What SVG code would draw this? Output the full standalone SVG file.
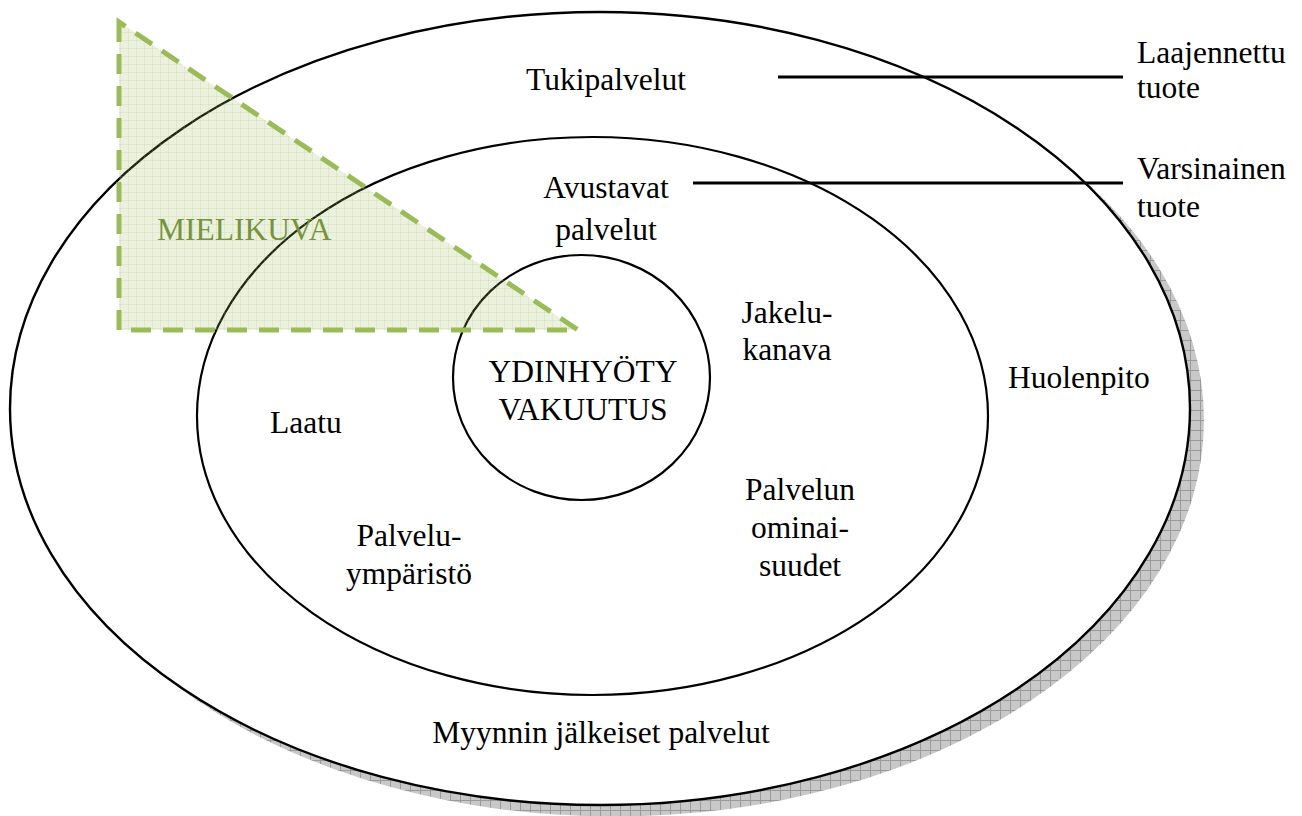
<svg xmlns="http://www.w3.org/2000/svg" width="1302" height="816" viewBox="0 0 1302 816">
<style>
.t{font-family:"Liberation Serif","DejaVu Serif",serif;font-size:31.5px;fill:#000}
.m{text-anchor:middle}
.ring{fill:none;stroke:#000;stroke-width:2.2}
.lbl{stroke:#000;stroke-width:3}
.g{fill:#77933c}
</style>
<defs>
<pattern id="hatch" width="10" height="10" patternUnits="userSpaceOnUse">
<rect width="10" height="10" fill="#c8c8c8"/>
<path d="M0 0.5H10M0.5 0V10" stroke="#9a9a9a" stroke-width="1"/>
</pattern>
<pattern id="grid" width="8" height="8" patternUnits="userSpaceOnUse">
<rect width="8" height="8" fill="#9bbb59" fill-opacity="0.2"/>
<path d="M0 0.5H8M0.5 0V8" stroke="#9bbb59" stroke-opacity="0.15" stroke-width="1"/>
</pattern>
</defs>
<rect width="1302" height="816" fill="#fff"/>
<g id="outer">
<ellipse cx="614" cy="420" rx="590" ry="396.5" fill="url(#hatch)"/>
<ellipse cx="600" cy="408.5" rx="590" ry="396.5" fill="#fff" stroke="#000" stroke-width="2.4"/>
<text class="t m" x="606" y="90">Tukipalvelut</text>
<text class="t" x="1008" y="388">Huolenpito</text>
<text class="t m" x="601" y="743">Myynnin jälkeiset palvelut</text>
</g>
<g id="middle">
<ellipse class="ring" cx="592.5" cy="416" rx="395.5" ry="279"/>
<text class="t m" x="606" y="198">Avustavat</text>
<text class="t m" x="606" y="240">palvelut</text>
<text class="t m" x="787" y="323">Jakelu-</text>
<text class="t m" x="787" y="360">kanava</text>
<text class="t" x="270" y="433">Laatu</text>
<text class="t m" x="800" y="500">Palvelun</text>
<text class="t m" x="800" y="538">ominai-</text>
<text class="t m" x="800" y="576">suudet</text>
<text class="t m" x="409" y="546">Palvelu-</text>
<text class="t m" x="409" y="584">ympäristö</text>
</g>
<g id="core">
<ellipse class="ring" cx="581.5" cy="377.5" rx="128.5" ry="122.5"/>
<text class="t m" x="583" y="382">YDINHYÖTY</text>
<text class="t m" x="583" y="420">VAKUUTUS</text>
</g>
<g id="mielikuva">
<polygon points="119,22 119,330 578,330" fill="url(#grid)"/>
<polygon points="119,22 119,330 578,330" fill="none" stroke="#9bbb59" stroke-width="5" stroke-dasharray="20,12"/>
<text class="t g" x="157" y="240">MIELIKUVA</text>
</g>
<g id="connectors">
<line class="lbl" x1="778" y1="77" x2="1123" y2="77"/>
<line class="lbl" x1="693" y1="183" x2="1123" y2="183"/>
</g>
<g id="legend">
<text class="t" x="1137" y="63">Laajennettu</text>
<text class="t" x="1137" y="98">tuote</text>
<text class="t" x="1137" y="179">Varsinainen</text>
<text class="t" x="1137" y="217">tuote</text>
</g>
</svg>
